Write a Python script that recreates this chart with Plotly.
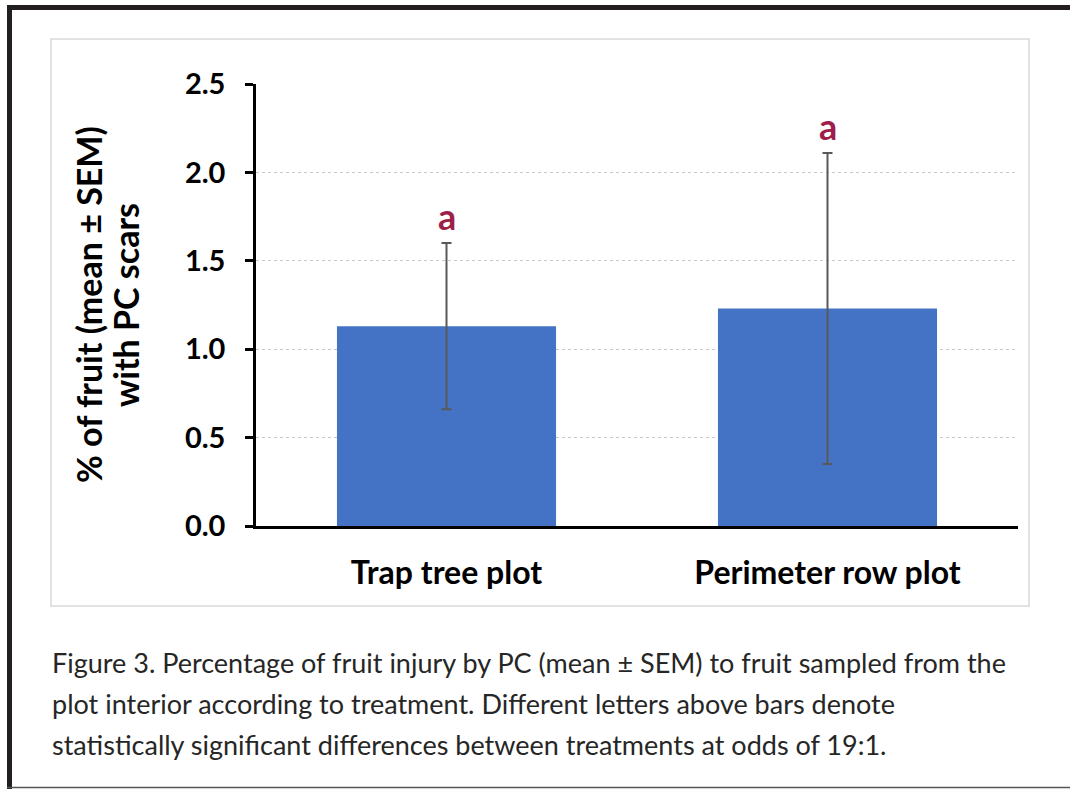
import plotly.graph_objects as go

categories = ["Trap tree plot", "Perimeter row plot"]
means = [1.13, 1.23]
sem = [0.47, 0.88]
letters = ["a", "a"]
y_ticks = [0.0, 0.5, 1.0, 1.5, 2.0, 2.5]
y_title_lines = ["% of fruit (mean ± SEM)", "with PC scars"]
caption_lines = [
    "Figure 3. Percentage of fruit injury by PC (mean ± SEM) to fruit sampled from the",
    "plot interior according to treatment. Different letters above bars denote",
    "statistically significant differences between treatments at odds of 19:1.",
]

W, H = 1070, 789
L, R, T, B = 256, 52, 84, 263
PW, PH = W - L - R, H - T - B


def fx(x):
    return (x - L) / PW


def fy(y):
    return (H - B - y) / PH


FONT = "Lato"

fig = go.Figure()
fig.add_trace(go.Bar(
    x=categories, y=means,
    marker=dict(color="#4472C4", line=dict(width=0)),
    error_y=dict(type="data", array=sem, visible=True, color="#595959",
                 thickness=2, width=5),
    showlegend=False,
))

annotations = []
for c, m, e, t in zip(categories, means, sem, letters):
    annotations.append(dict(x=c, y=m + e, xref="x", yref="y", text="<b>%s</b>" % t,
                            showarrow=False, yanchor="bottom", yshift=3,
                            font=dict(family=FONT, size=36, color="#9E1F4A")))

for i, line in enumerate(y_title_lines):
    annotations.append(dict(x=fx(88 + 37 * i), y=0.5, xref="paper", yref="paper",
                            text="<b>%s</b>" % line, textangle=-90, showarrow=False,
                            xanchor="center", yanchor="middle",
                            font=dict(family=FONT, size=34, color="#000000")))

for i, line in enumerate(caption_lines):
    annotations.append(dict(x=fx(50), y=fy(662 + 41 * i), xref="paper", yref="paper",
                            text=line, showarrow=False, xanchor="left", yanchor="middle",
                            font=dict(family=FONT, size=27, color="#262626")))

shapes = [
    dict(type="rect", xref="paper", yref="paper", x0=fx(51), x1=fx(1029),
         y0=fy(606), y1=fy(39), line=dict(color="#D9D9D9", width=1.5), layer="below"),
    dict(type="line", xref="paper", yref="paper", x0=fx(9.5), x1=fx(9.5),
         y0=fy(5), y1=fy(789), line=dict(color="#231F20", width=5)),
    dict(type="line", xref="paper", yref="paper", x0=fx(7), x1=fx(1070),
         y0=fy(7.5), y1=fy(7.5), line=dict(color="#231F20", width=5)),
    dict(type="line", xref="paper", yref="paper", x0=fx(7), x1=fx(1070),
         y0=fy(787.5), y1=fy(787.5), line=dict(color="#555555", width=1.5)),
]

fig.update_layout(
    width=W, height=H,
    margin=dict(l=L, r=R, t=T, b=B, pad=0),
    paper_bgcolor="white", plot_bgcolor="white",
    bargap=0.425,
    annotations=annotations,
    shapes=shapes,
    font=dict(family=FONT, color="#000000"),
)
fig.update_xaxes(
    showline=True, linecolor="#000000", linewidth=2.5,
    showgrid=False, ticks="", ticklabelstandoff=17,
    tickfont=dict(family=FONT, size=32, color="#000000", weight="bold"),
)
fig.update_yaxes(
    range=[0, 2.5], tickvals=y_ticks, tickformat=".1f",
    showline=True, linecolor="#000000", linewidth=2.5,
    ticks="outside", ticklen=8, tickwidth=2.5, tickcolor="#000000",
    ticklabelstandoff=14,
    showgrid=True, gridcolor="#C8C8C8", griddash="dot", gridwidth=1,
    zeroline=False,
    tickfont=dict(family=FONT, size=29, color="#000000", weight="bold"),
)

fig.write_html("out.html", config={"displayModeBar": False},
               post_script="document.body.style.margin='0';")
